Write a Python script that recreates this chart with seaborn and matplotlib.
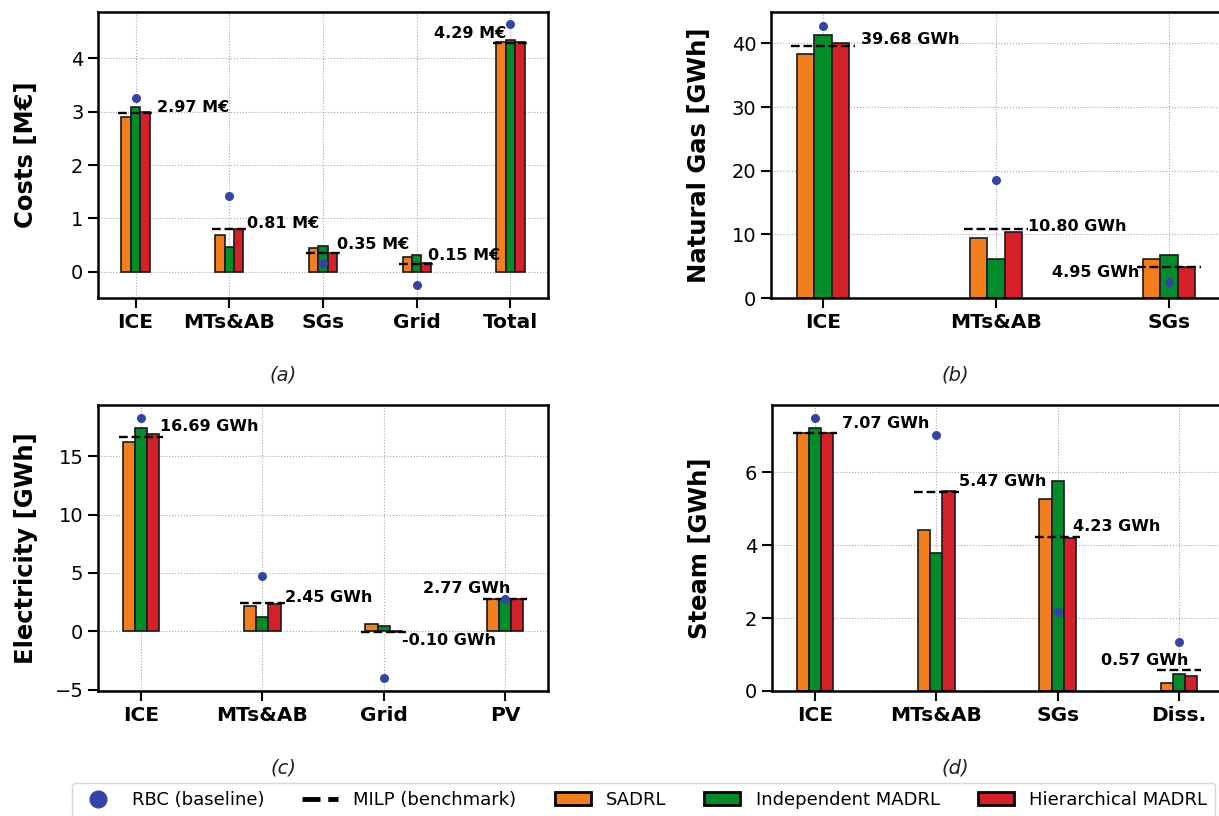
import numpy as np
import pandas as pd
import matplotlib
matplotlib.use("Agg")
import matplotlib.pyplot as plt
import seaborn as sns
from matplotlib.lines import Line2D
from matplotlib.patches import Patch

# ---------------- data ----------------
methods = ["SADRL", "Independent MADRL", "Hierarchical MADRL"]

cats_a = ["ICE", "MTs&AB", "SGs", "Grid", "Total"]
sadrl_a = [2.91, 0.70, 0.44, 0.27, 4.31]
indep_a = [3.09, 0.46, 0.48, 0.32, 4.35]
hier_a = [2.99, 0.80, 0.35, 0.17, 4.30]
milp_a = [2.97, 0.81, 0.35, 0.15, 4.29]
rbc_a = [3.26, 1.43, 0.17, -0.24, 4.64]

cats_b = ["ICE", "MTs&AB", "SGs"]
sadrl_b = [38.4, 9.4, 6.1]
indep_b = [41.3, 6.2, 6.7]
hier_b = [40.1, 10.3, 4.9]
milp_b = [39.68, 10.80, 4.95]
rbc_b = [42.8, 18.6, 2.5]

cats_c = ["ICE", "MTs&AB", "Grid", "PV"]
sadrl_c = [16.2, 2.2, 0.6, 2.77]
indep_c = [17.4, 1.2, 0.46, 2.77]
hier_c = [16.9, 2.3, -0.06, 2.77]
milp_c = [16.69, 2.45, -0.10, 2.77]
rbc_c = [18.3, 4.75, -4.0, 2.75]

cats_d = ["ICE", "MTs&AB", "SGs", "Diss."]
sadrl_d = [7.09, 4.42, 5.26, 0.23]
indep_d = [7.22, 3.79, 5.77, 0.47]
hier_d = [7.09, 5.50, 4.19, 0.42]
milp_d = [7.07, 5.47, 4.23, 0.57]
rbc_d = [7.48, 7.03, 2.18, 1.35]

# ---------------- style ----------------
colors = ["#F27F1B", "#008C2B", "#D42129"]
rbc_color = "#3344A8"

sns.set_theme(style="ticks")
plt.rcParams.update({
    "font.family": ["DejaVu Sans"],
    "text.color": "black",
    "axes.labelcolor": "black",
    "axes.edgecolor": "black",
    "axes.linewidth": 1.8,
    "xtick.color": "black",
    "ytick.color": "black",
    "xtick.major.size": 7,
    "ytick.major.size": 7,
    "xtick.major.width": 1.5,
    "ytick.major.width": 1.5,
})

W, H = 1219, 816
fig = plt.figure(figsize=(W / 100, H / 100), dpi=100)


def add_ax(l, r, t, b):
    return fig.add_axes([l / W, 1 - b / H, (r - l) / W, (b - t) / H])


# annotation style per category: (dx in data units, ha, dy in px)
panels = [
    dict(cats=cats_a, vals=[sadrl_a, indep_a, hier_a], milp=milp_a, rbc=rbc_a,
         ylabel="Costs [M€]", unit="M€", box=(98, 548, 12, 298),
         xlim=(-0.4, 4.4), ylim=(-0.49, 4.87), yticks=[0, 1, 2, 3, 4],
         ann=[(0.225, "left", 6), (0.19, "left", 5), (0.15, "left", 9),
              (0.115, "left", 8), (-0.04, "right", 9)]),
    dict(cats=cats_b, vals=[sadrl_b, indep_b, hier_b], milp=milp_b, rbc=rbc_b,
         ylabel="Natural Gas [GWh]", unit="GWh", box=(771, 1221, 12, 298),
         xlim=(-0.3, 2.3), ylim=(0, 44.95), yticks=[0, 10, 20, 30, 40],
         ann=[(0.22, "left", 6), (0.185, "left", 3), (-0.17, "right", -6)]),
    dict(cats=cats_c, vals=[sadrl_c, indep_c, hier_c], milp=milp_c, rbc=rbc_c,
         ylabel="Electricity [GWh]", unit="GWh", box=(98, 548, 405, 691),
         xlim=(-0.355, 3.355), ylim=(-5.12, 19.4), yticks=[-5, 0, 5, 10, 15],
         ann=[(0.156, "left", 10), (0.19, "left", 5), (0.153, "left", -8),
              (0.044, "right", 10)]),
    dict(cats=cats_d, vals=[sadrl_d, indep_d, hier_d], milp=milp_d, rbc=rbc_d,
         ylabel="Steam [GWh]", unit="GWh", box=(772, 1222, 405, 691),
         xlim=(-0.355, 3.355), ylim=(0, 7.85), yticks=[0, 2, 4, 6],
         ann=[(0.22, "left", 10), (0.19, "left", 10), (0.124, "left", 10),
              (0.08, "right", 10)]),
]

for p in panels:
    ax = add_ax(*p["box"])
    cats = p["cats"]
    df = pd.DataFrame({
        "cat": cats * 3,
        "method": [m for m in methods for _ in cats],
        "val": p["vals"][0] + p["vals"][1] + p["vals"][2],
    })
    ax.set_axisbelow(True)
    sns.barplot(data=df, x="cat", y="val", hue="method", order=cats,
                hue_order=methods, palette=colors, width=0.3, errorbar=None,
                edgecolor="#1a1a1a", linewidth=1.2, legend=False, ax=ax,
                saturation=1)
    sns.stripplot(x=cats, y=p["rbc"], order=cats, jitter=False, color=rbc_color,
                  size=6.5, ax=ax, zorder=6, linewidth=0)
    ax.grid(True, which="major", axis="both", linestyle=":", color="#a8a8a8",
            linewidth=0.8)
    pos = np.arange(len(cats))
    ax.hlines(p["milp"], pos - 0.185, pos + 0.185, colors="black",
              linestyles="--", linewidth=1.7, zorder=5)
    for x, v, (dx, ha, dy) in zip(pos, p["milp"], p["ann"]):
        ax.annotate(f"{v:.2f} {p['unit']}", xy=(x + dx, v),
                    xytext=(0, dy * 0.72), textcoords="offset points",
                    ha=ha, va="center", fontsize=11.5, fontweight="bold",
                    color="black", zorder=7)
    ax.set_xlim(*p["xlim"])
    ax.set_ylim(*p["ylim"])
    ax.set_yticks(p["yticks"])
    ax.set_xlabel("")
    ax.set_ylabel(p["ylabel"], fontsize=17.5, fontweight="bold", color="black")
    ax.yaxis.set_label_coords(-60 / 450, 0.5)
    ax.tick_params(axis="x", labelsize=14.5, labelcolor="black")
    ax.tick_params(axis="y", labelsize=14, labelcolor="black")
    for lab in ax.get_xticklabels():
        lab.set_fontweight("bold")
    for s in ax.spines.values():
        s.set_visible(True)
        s.set_linewidth(1.8)
        s.set_color("black")

# captions
for txt, x, y in [("(a)", 283, 375), ("(b)", 955, 375), ("(c)", 283, 768), ("(d)", 955, 768)]:
    fig.text(x / W, 1 - y / H, txt, ha="center", va="center", style="italic",
             fontsize=14, color="#222222")

# legend
handles = [
    Line2D([0], [0], marker="o", linestyle="none", markersize=12,
           markerfacecolor=rbc_color, markeredgecolor=rbc_color),
    Line2D([0], [0], color="black", linewidth=3.5, linestyle="--"),
] + [Patch(facecolor=c, edgecolor="black", linewidth=2) for c in colors]
labels = ["RBC (baseline)", "MILP (benchmark)"] + methods
fig.legend(handles, labels, loc="upper left", bbox_to_anchor=(72 / W, 1 - 783 / H),
           borderaxespad=0, ncol=5, fontsize=13, frameon=True, handlelength=2.0,
           handletextpad=0.85, columnspacing=2.1, borderpad=0.45,
           edgecolor="#cccccc", fancybox=True, labelcolor="black")

fig.savefig("out.png", dpi=100)
